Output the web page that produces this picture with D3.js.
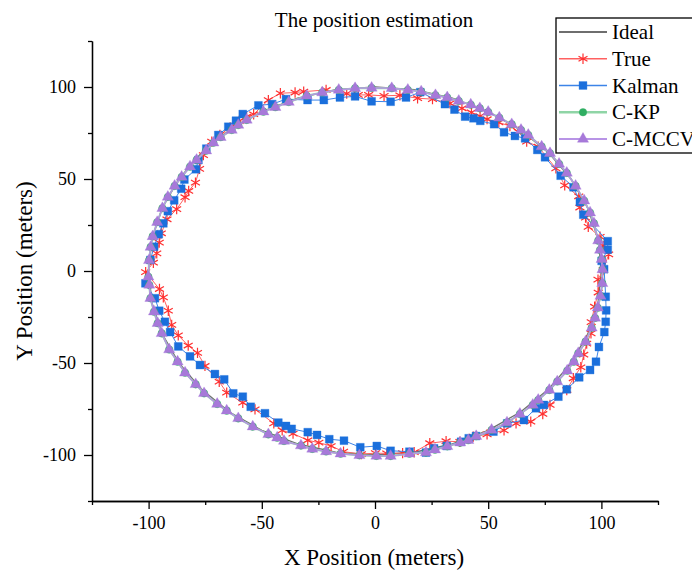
<!DOCTYPE html>
<html>
<head>
<meta charset="utf-8">
<script src="https://cdn.jsdelivr.net/npm/d3@7"></script>
<style>
  body { margin: 0; background: #fff; }
  svg { display: block; }
  text { font-family: "Liberation Serif", "Times New Roman", serif; }
</style>
</head>
<body>
<div id="chart"></div>
<script>
// ---- data (meters) ----
var seriesNames = ["Ideal", "True", "Kalman", "C-KP", "C-MCCV"];
var xMajorTicks = [-100, -50, 0, 50, 100];
var xMinorTicks = [-125, -75, -25, 25, 75, 125];
var yMajorTicks = [-100, -50, 0, 50, 100];
var yMinorTicks = [-125, -75, -25, 25, 75, 125];

var idealPts = [
  [100,0],[98.5,17.4],[94.0,34.2],[86.6,50.0],[76.6,64.3],[64.3,76.6],[50.0,86.6],[34.2,94.0],[17.4,98.5],
  [0,100],[-17.4,98.5],[-34.2,94.0],[-50.0,86.6],[-64.3,76.6],[-76.6,64.3],[-86.6,50.0],[-94.0,34.2],[-98.5,17.4],
  [-100,0],[-98.5,-17.4],[-94.0,-34.2],[-86.6,-50.0],[-76.6,-64.3],[-64.3,-76.6],[-50.0,-86.6],[-34.2,-94.0],[-17.4,-98.5],
  [0,-100],[17.4,-98.5],[34.2,-94.0],[50.0,-86.6],[64.3,-76.6],[76.6,-64.3],[86.6,-50.0],[94.0,-34.2],[98.5,-17.4]
];

var truePts = [
  [100.8,0.5],[103.2,9.0],[100.8,13.6],[99.4,18.6],[94.2,24.0],[93.0,29.0],[90.5,34.5],[90.0,40.6],[83.8,46.5],[79.9,55.8],
  [72.1,67.6],[67.0,70.3],[63.3,75.7],[59.6,78.8],[54.7,80.7],[49.5,82.5],[46.4,84.2],[42.6,86.2],[38.4,88.4],[33.1,91.1],
  [25.4,93.4],[18.8,93.9],[11.0,95.5],[4.0,95.2],[-2.8,95.7],[-7.4,95.7],[-12.5,96.4],[-21.6,98.4],[-31.5,97.5],[-35.3,97.0],
  [-41.8,96.6],[-47.1,92.9],[-53.6,85.2],[-56.7,83.9],[-60.0,81.5],[-64.0,78.0],[-68.5,74.0],[-72.1,70.3],[-75.8,63.0],[-77.5,55.5],
  [-79.3,48.0],[-82.3,43.5],[-83.9,40.1],[-87.6,33.6],[-91.9,28.1],[-94.4,20.5],[-95.3,15.4],[-96.4,9.6],[-97.9,4.5],[-101.3,-0.6],
  [-95.2,-9.8],[-93.5,-14.3],[-91.3,-21.6],[-89.8,-29.3],[-86.9,-35.0],[-82.5,-40.5],[-78.4,-44.5],[-75.1,-51.6],[-68.8,-60.2],[-65.5,-66.1],
  [-58.4,-71.6],[-53.0,-75.2],[-44.7,-82.8],[-41.0,-86.6],[-36.2,-88.4],[-29.7,-92.0],[-24.8,-93.3],[-19.4,-95.1],[-13.9,-98.2],[-6.0,-99.5],
  [0.2,-99.0],[5.2,-99.1],[12.2,-99.0],[17.3,-98.5],[24.2,-93.6],[31.4,-92.5],[37.5,-92.8],[43.4,-90.0],[49.5,-88.8],[57.0,-86.6],
  [62.3,-82.8],[68.8,-81.9],[74.1,-77.7],[77.3,-72.8],[84.7,-64.7],[87.6,-58.3],[90.9,-52.3],[92.2,-45.5],[93.5,-39.5],[95.4,-33.9],
  [95.5,-27.8],[97.0,-19.4],[98.6,-11.7],[98.5,-4.7]
];

var kalmanPts = [
  [101.2,1.0],[100.1,5.5],[102.8,11.6],[102.8,16.2],[92.0,30.6],[90.5,37.5],[87.7,45.5],[82.0,51.8],[75.1,61.8],[71.7,65.8],
  [66.3,72.1],[61.8,73.4],[57.0,75.4],[52.6,79.8],[46.5,81.6],[43.5,83.0],[39.8,83.9],[35.1,87.7],[30.9,90.7],[20.0,97.2],
  [13.7,94.3],[6.9,92.0],[-1.5,92.2],[-8.8,94.9],[-15.5,94.3],[-22.6,92.9],[-29.8,92.9],[-39.3,93.4],[-45.4,90.7],[-51.5,90.0],
  [-58.4,85.3],[-61.4,81.7],[-64.8,78.4],[-69.2,73.9],[-74.5,66.5],[-78.0,60.3],[-79.1,55.3],[-84.2,49.7],[-85.6,44.7],[-88.7,38.4],
  [-91.5,32.5],[-93.5,25.9],[-95.5,20.0],[-97.6,13.2],[-99.2,6.0],[-101.4,-6.7],[-97.2,-14.8],[-95.3,-21.6],[-92.8,-27.6],[-90.5,-33.2],
  [-86.9,-41.0],[-81.7,-46.4],[-77.3,-51.1],[-70.7,-56.0],[-66.6,-58.9],[-62.6,-66.5],[-58.4,-68.3],[-54.9,-73.8],[-48.6,-77.3],[-42.7,-82.4],
  [-39.3,-84.2],[-36.8,-85.8],[-29.7,-87.6],[-25.6,-89.1],[-20.2,-91.4],[-13.7,-92.2],[-6.5,-95.8],[0.8,-95.1],[6.9,-97.7],[15.2,-98.2],
  [22.5,-98.7],[26.1,-96.4],[31.7,-95.1],[38.0,-92.8],[41.4,-90.9],[44.6,-89.7],[52.3,-87.3],[58.4,-82.8],[65.8,-81.0],[71.1,-74.6],
  [74.6,-72.8],[81.0,-68.3],[84.7,-64.3],[90.2,-57.8],[95.0,-53.8],[97.6,-49.3],[98.9,-41.3],[101.3,-33.2],[101.9,-27.6],[102.1,-21.4],
  [101.9,-14.0]
];

var ckpPts = [
  [100.5,0.8],[100.1,6.4],[99.4,11.4],[98.6,16.5],[96.7,25.9],[95.0,31.7],[92.4,38.2],[88.6,46.2],[84.7,53.3],[81.3,58.2],
  [77.3,64.0],[73.6,67.6],[67.7,73.9],[64.5,76.6],[60.4,79.7],[54.9,83.3],[50.0,86.4],[46.3,88.4],[42.3,90.4],[37.0,92.4],
  [31.9,94.3],[26.7,95.5],[20.4,97.5],[14.5,98.4],[7.4,99.3],[-1.5,99.5],[-8.8,99.3],[-16.0,98.4],[-23.3,97.0],[-30.2,95.2],
  [-38.1,91.8],[-44.0,89.0],[-49.3,86.6],[-56.7,82.1],[-60.4,79.3],[-63.3,76.6],[-68.2,72.7],[-71.4,69.7],[-74.6,65.4],[-78.8,60.3],
  [-81.7,56.7],[-85.4,51.1],[-88.5,46.2],[-91.5,40.2],[-93.9,34.1],[-96.2,26.5],[-98.2,18.8],[-99.1,13.0],[-99.8,5.8],[-100.1,-3.2],
  [-99.7,-7.6],[-99.2,-14.8],[-97.6,-22.1],[-96.0,-28.4],[-94.2,-33.9],[-90.9,-42.7],[-87.2,-49.3],[-83.9,-55.3],[-79.2,-61.6],[-75.5,-66.5],
  [-69.7,-72.3],[-65.5,-75.9],[-60.4,-80.1],[-54.0,-84.6],[-47.1,-88.8],[-43.2,-90.6],[-40.2,-92.4],[-32.7,-94.9],[-27.7,-96.7],[-21.6,-98.1],
  [-15.2,-99.3],[-6.9,-100.2],[0.6,-100.5],[6.9,-100.6],[15.2,-99.3],[22.5,-98.7],[26.5,-97.1],[31.9,-95.3],[37.6,-93.3],[41.2,-92.0],
  [44.7,-89.8],[51.5,-86.4],[58.3,-82.4],[64.0,-77.7],[69.7,-72.8],[72.1,-70.1],[77.0,-64.7],[80.5,-60.1],[84.9,-54.2],[87.8,-49.3],
  [89.8,-44.7],[93.0,-38.4],[95.7,-30.9],[97.2,-25.5],[98.4,-20.0],[99.6,-13.6],[100.4,-6.7]
];

var mccvPts = [
  [100.5,0.8],[100.1,6.4],[99.4,11.4],[98.6,16.5],[96.7,25.9],[95.0,31.7],[92.4,38.2],[88.6,46.2],[84.7,53.3],[81.3,58.2],
  [77.3,64.0],[73.6,67.6],[67.7,73.9],[64.5,76.6],[60.4,79.7],[54.9,83.3],[50.0,86.4],[46.3,88.4],[42.3,90.4],[37.0,92.4],
  [31.9,94.3],[26.7,95.5],[20.4,97.5],[14.5,98.4],[7.4,99.3],[-1.5,99.5],[-8.8,99.3],[-16.0,98.4],[-23.3,97.0],[-30.2,95.2],
  [-38.1,91.8],[-44.0,89.0],[-49.3,86.6],[-56.7,82.1],[-60.4,79.3],[-63.3,76.6],[-68.2,72.7],[-71.4,69.7],[-74.6,65.4],[-78.8,60.3],
  [-81.7,56.7],[-85.4,51.1],[-88.5,46.2],[-91.5,40.2],[-93.9,34.1],[-96.2,26.5],[-98.2,18.8],[-99.1,13.0],[-99.8,5.8],[-100.1,-3.2],
  [-99.7,-7.6],[-99.2,-14.8],[-97.6,-22.1],[-96.0,-28.4],[-94.2,-33.9],[-90.9,-42.7],[-87.2,-49.3],[-83.9,-55.3],[-79.2,-61.6],[-75.5,-66.5],
  [-69.7,-72.3],[-65.5,-75.9],[-60.4,-80.1],[-54.0,-84.6],[-47.1,-88.8],[-43.2,-90.6],[-40.2,-92.4],[-32.7,-94.9],[-27.7,-96.7],[-21.6,-98.1],
  [-15.2,-99.3],[-6.9,-100.2],[0.6,-100.5],[6.9,-100.6],[15.2,-99.3],[22.5,-98.7],[26.5,-97.1],[31.9,-95.3],[37.6,-93.3],[41.2,-92.0],
  [44.7,-89.8],[51.5,-86.4],[58.3,-82.4],[64.0,-77.7],[69.7,-72.8],[72.1,-70.1],[77.0,-64.7],[80.5,-60.1],[84.9,-54.2],[87.8,-49.3],
  [89.8,-44.7],[93.0,-38.4],[95.7,-30.9],[97.2,-25.5],[98.4,-20.0],[99.6,-13.6],[100.4,-6.7]
];

// ---- layout ----
var width = 692, height = 576;
var plotL = 92, plotR = 658, plotT = 41, plotB = 501;

var svg = d3.select("#chart").append("svg")
    .attr("width", width)
    .attr("height", height);

var x = d3.scaleLinear().domain([-125, 125]).range([plotL, plotR]);
var y = d3.scaleLinear().domain([-125, 125]).range([plotB, plotT]);

var line = d3.line()
    .x(function (d) { return x(d[0]); })
    .y(function (d) { return y(d[1]); })
    .curve(d3.curveLinearClosed);

var styles = {
  "Ideal":  {line: "#6e6e6e", lw: 1.3},
  "True":   {line: "#ff6060", lw: 1, marker: "#ff3030", symbol: d3.symbolAsterisk, size: 75, stroke: true},
  "Kalman": {line: "#3c84e8", lw: 1, marker: "#1a6fdc", symbol: d3.symbolSquare, size: 62},
  "C-KP":   {line: "#8fd5a6", lw: 2, marker: "#2fae62", symbol: d3.symbolCircle, size: 45},
  "C-MCCV": {line: "#b894e6", lw: 1.4, marker: "#a779d9", symbol: d3.symbolTriangle, size: 54}
};
var seriesData = {
  "Ideal": idealPts, "True": truePts, "Kalman": kalmanPts, "C-KP": ckpPts, "C-MCCV": mccvPts
};

function drawMarker(sel, st) {
  sel.attr("d", d3.symbol().type(st.symbol).size(st.size));
  if (st.stroke) {
    sel.attr("fill", "none").attr("stroke", st.marker).attr("stroke-width", 1.2);
  } else {
    sel.attr("fill", st.marker).attr("stroke", st.marker).attr("stroke-opacity", 0.35).attr("stroke-width", 1);
  }
}

// lines + markers, in legend order
seriesNames.forEach(function (name) {
  var st = styles[name];
  var g = svg.append("g").attr("class", "series");
  g.append("path")
      .datum(seriesData[name])
      .attr("fill", "none")
      .attr("stroke", st.line)
      .attr("stroke-width", st.lw)
      .attr("d", line);
  if (st.symbol) {
    g.selectAll("path.pt").data(seriesData[name]).enter()
      .append("path")
      .attr("class", "pt")
      .attr("transform", function (d) { return "translate(" + x(d[0]) + "," + y(d[1]) + ")"; })
      .call(drawMarker, st);
  }
});

// ---- axes ----
function styleAxis(g) {
  g.selectAll("path.domain").attr("stroke", "#000").attr("stroke-width", 1.3);
  g.selectAll(".tick line").attr("stroke", "#000").attr("stroke-width", 1.3);
  g.selectAll(".tick text").attr("fill", "#000")
      .style("font-family", '"Liberation Serif", "Times New Roman", serif')
      .style("font-size", "18px");
}
var tickFmt = function (d) { return String(d); };

svg.append("g")
    .attr("transform", "translate(0," + plotB + ")")
    .call(d3.axisBottom(x).tickValues(xMajorTicks).tickFormat(tickFmt).tickSize(8).tickSizeOuter(0).tickPadding(7))
    .call(styleAxis);
svg.append("g")
    .attr("transform", "translate(0," + plotB + ")")
    .call(d3.axisBottom(x).tickValues(xMinorTicks).tickSize(4).tickSizeOuter(0).tickFormat(""))
    .call(styleAxis);

svg.append("g")
    .attr("transform", "translate(" + plotL + ",0)")
    .call(d3.axisLeft(y).tickValues(yMajorTicks).tickFormat(tickFmt).tickSize(8).tickSizeOuter(0).tickPadding(8))
    .call(styleAxis);
svg.append("g")
    .attr("transform", "translate(" + plotL + ",0)")
    .call(d3.axisLeft(y).tickValues(yMinorTicks).tickSize(4).tickSizeOuter(0).tickFormat(""))
    .call(styleAxis);

// titles
svg.append("text")
    .attr("x", 374).attr("y", 27)
    .attr("text-anchor", "middle")
    .style("font-size", "21px")
    .text("The position estimation");

svg.append("text")
    .attr("x", 374).attr("y", 565)
    .attr("text-anchor", "middle")
    .style("font-size", "23px")
    .text("X Position (meters)");

svg.append("text")
    .attr("transform", "translate(32," + y(0) + ") rotate(-90)")
    .attr("text-anchor", "middle")
    .style("font-size", "23px")
    .text("Y Position (meters)");

// ---- legend ----
var legend = svg.append("g").attr("transform", "translate(556,18)");
legend.append("rect")
    .attr("width", 160).attr("height", 135)
    .attr("fill", "#fff")
    .attr("stroke", "#000")
    .attr("stroke-width", 1.3);

var rowY = d3.scalePoint().domain(seriesNames).range([14, 121]);

seriesNames.forEach(function (name) {
  var st = styles[name];
  var row = legend.append("g").attr("transform", "translate(0," + rowY(name) + ")");
  row.append("line")
      .attr("x1", 3).attr("x2", 51)
      .attr("stroke", st.line)
      .attr("stroke-width", name === "Ideal" ? 2 : st.lw + 0.5);
  if (st.symbol) {
    row.append("path")
        .attr("transform", "translate(27,0)")
        .call(drawMarker, st);
  }
  row.append("text")
      .attr("x", 56).attr("y", 7)
      .style("font-size", "21px")
      .text(name);
});
</script>
</body>
</html>
